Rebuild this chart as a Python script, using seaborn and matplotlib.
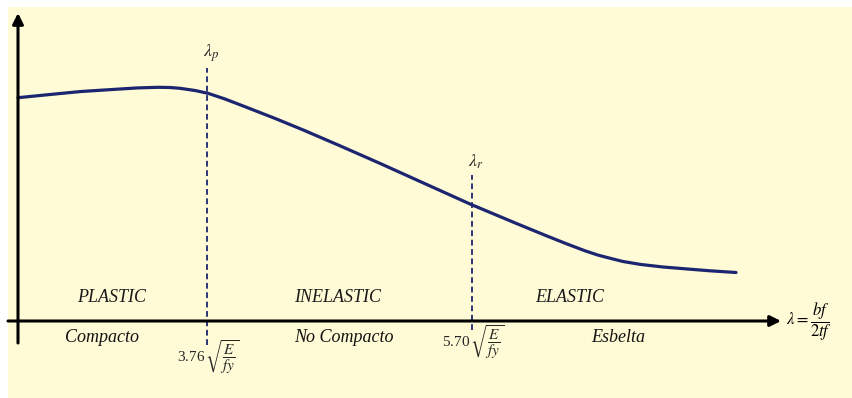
import matplotlib
matplotlib.use("Agg")
import matplotlib.pyplot as plt
import seaborn as sns
import pandas as pd

# Slenderness ratio (lambda = bf / 2tf) and nominal flexural strength, arbitrary units
slenderness = [0.00, 0.32, 0.63, 1.02, 1.20, 1.40, 1.52, 1.62, 1.77, 1.90,
               2.07, 2.27, 2.57, 2.86, 3.22, 3.62, 4.07, 4.52, 4.98, 5.27,
               5.47, 5.67, 5.80, 5.93, 6.05, 6.23, 6.45, 6.67, 6.92, 7.18]
strength = [2.233, 2.265, 2.295, 2.320, 2.331, 2.337, 2.335, 2.327, 2.305, 2.277,
            2.220, 2.143, 2.026, 1.907, 1.752, 1.576, 1.373, 1.170, 0.977, 0.858,
            0.778, 0.702, 0.659, 0.625, 0.595, 0.565, 0.540, 0.522, 0.502, 0.485]

# Limiting slenderness ratios
limit_names = [r"$\lambda_p$", r"$\lambda_r$"]
limit_x = [1.89, 4.54]
limit_coef = ["3.76", "5.70"]

# Region labels above and below the slenderness axis
behaviour = ["PLASTIC", "INELASTIC", "ELASTIC"]
behaviour_x = [0.94, 3.20, 5.52]
section_class = ["Compacto", "No Compacto", "Esbelta"]
section_x = [0.84, 3.26, 6.00]

sns.set_style("white")
plt.rcParams["font.family"] = ["Liberation Serif", "DejaVu Serif"]
plt.rcParams["mathtext.fontset"] = "stix"

BG = "#FFFBD6"
NAVY = "#1C2570"

fig = plt.figure(figsize=(8.52, 3.98), dpi=100, facecolor="white")
ax = fig.add_axes([8 / 852, 0, 844 / 852, 391 / 398])
ax.set_facecolor(BG)
ax.set_xlim(-0.10, 8.34)
ax.set_ylim(-0.77, 3.14)
for s in ax.spines.values():
    s.set_visible(False)
ax.set_xticks([])
ax.set_yticks([])

df = pd.DataFrame({"lam": slenderness, "Mn": strength})
sns.lineplot(data=df, x="lam", y="Mn", ax=ax, color=NAVY, lw=2.3,
             sort=False, zorder=3)
ax.lines[-1].set_solid_joinstyle("round")
ax.set_xlabel("")
ax.set_ylabel("")

# Coordinate axes with arrow heads
ax.annotate("", xy=(7.63, 0), xytext=(-0.10, 0),
            arrowprops=dict(arrowstyle="-|>", lw=2.2, color="black",
                            mutation_scale=16, shrinkA=0, shrinkB=0))
ax.annotate("", xy=(0, 3.08), xytext=(0, -0.22),
            arrowprops=dict(arrowstyle="-|>", lw=2.2, color="black",
                            mutation_scale=16, shrinkA=0, shrinkB=0))
ax.text(7.68, -0.01, r"$\lambda = \dfrac{bf}{2tf}$", fontsize=12,
        ha="left", va="center", color="black")

# Limit lines and their labels
tops = [2.53, 1.46]
bottoms = [-0.24, -0.09]
for name, x, coef, top, bot in zip(limit_names, limit_x, limit_coef, tops, bottoms):
    ax.plot([x, x], [bot, top], ls=(0, (3.2, 2.0)), lw=1.3, color=NAVY, zorder=2)
    ax.text(x + 0.04, top + 0.04, name, fontsize=13, ha="center", va="bottom")
    ax.text(x + 0.01, bot - 0.12, coef + r"$\,\sqrt{\dfrac{E}{fy}}$", fontsize=11,
            ha="center", va="center")

for t, x in zip(behaviour, behaviour_x):
    ax.text(x, 0.23, t, fontsize=13, style="italic", ha="center", va="center",
            color="#1a1a1a")
for t, x in zip(section_class, section_x):
    ax.text(x, -0.17, t, fontsize=13, style="italic", ha="center", va="center",
            color="#111111")

fig.savefig("out.png", dpi=100, facecolor="white")
